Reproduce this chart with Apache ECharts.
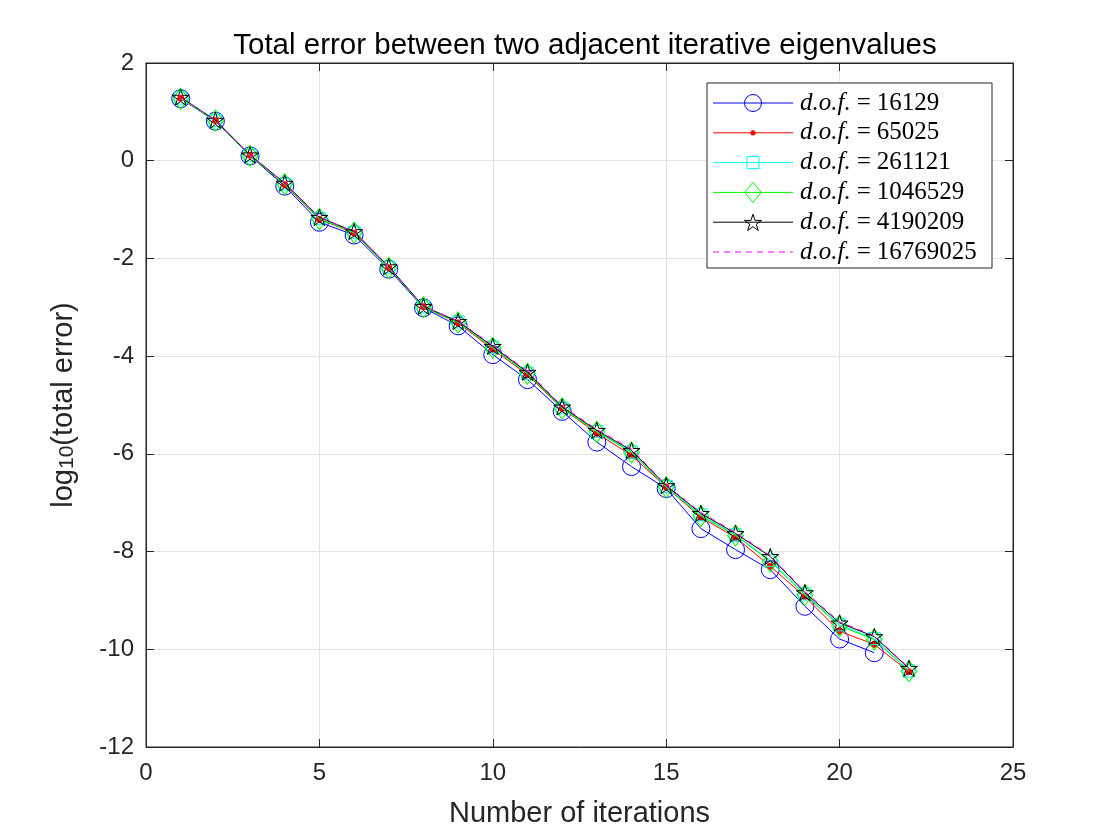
<!DOCTYPE html>
<html>
<head>
<meta charset="utf-8">
<script src="https://cdn.jsdelivr.net/npm/echarts@6/dist/echarts.min.js"></script>
<style>html,body{margin:0;padding:0;background:#fff;}#c{width:1120px;height:840px;}</style>
</head>
<body>
<div id="c"></div>
<script>
const iterations = [1,2,3,4,5,6,7,8,9,10,11,12,13,14,15,16,17,18,19,20,21,22];
const dof16129 = [1.27,0.81,0.10,-0.52,-1.26,-1.52,-2.22,-3.01,-3.38,-3.97,-4.48,-5.13,-5.76,-6.26,-6.71,-7.53,-7.96,-8.37,-9.12,-9.79,-10.07];
const dof65025 = [1.28,0.82,0.11,-0.49,-1.20,-1.48,-2.19,-2.99,-3.32,-3.86,-4.38,-5.07,-5.58,-6.03,-6.68,-7.30,-7.71,-8.30,-8.92,-9.63,-9.90,-10.46];
const dof261121 = [1.28,0.82,0.11,-0.48,-1.18,-1.47,-2.18,-2.99,-3.30,-3.82,-4.35,-5.06,-5.54,-5.96,-6.67,-7.25,-7.66,-8.18,-8.87,-9.50,-9.78,-10.44];
const dof1046529 = [1.27,0.82,0.10,-0.48,-1.19,-1.47,-2.19,-3.00,-3.31,-3.83,-4.36,-5.07,-5.55,-5.97,-6.68,-7.27,-7.67,-8.20,-8.89,-9.52,-9.80,-10.45];
const dof4190209 = [1.30,0.83,0.12,-0.46,-1.16,-1.45,-2.17,-2.98,-3.29,-3.80,-4.33,-5.04,-5.52,-5.93,-6.65,-7.22,-7.63,-8.10,-8.84,-9.46,-9.74,-10.39];
const dof16769025 = [1.29,0.83,0.12,-0.46,-1.16,-1.45,-2.17,-2.98,-3.28,-3.78,-4.31,-5.02,-5.50,-5.90,-6.64,-7.20,-7.61,-8.08,-8.82,-9.44,-9.72,-10.38];
const legendLabels = ['16129','65025','261121','1046529','4190209','16769025'];
const xTicks = [0,5,10,15,20,25];
const yTicks = [2,0,-2,-4,-6,-8,-10,-12];

const STAR = 'path://M0,-100 L22.45,-30.9 L95.1,-30.9 L36.3,11.8 L58.8,80.9 L0,38.2 L-58.8,80.9 L-36.3,11.8 L-95.1,-30.9 L-22.45,-30.9 Z';
function pairs(arr){ return arr.map((v,i)=>[iterations[i], v]); }
const specs = [
  {data: dof16129, color:'#0000ff', symbol:'circle', size:18, fill:'rgba(0,0,0,0)', mk:'circle'},
  {data: dof65025, color:'#ff0000', symbol:'circle', size:6, fill:'#ff0000', mk:'dot'},
  {data: dof261121, color:'#00ffff', symbol:'rect', size:12, fill:'rgba(0,0,0,0)', mk:'square'},
  {data: dof1046529, color:'#00ff00', symbol:'diamond', size:[16,21], fill:'rgba(0,0,0,0)', mk:'diamond'},
  {data: dof4190209, color:'#000000', symbol:STAR, size:[17,17], fill:'rgba(0,0,0,0)', mk:'star'},
  {data: dof16769025, color:'#ff00ff', symbol:'none', size:0, fill:'#ff00ff', dashed:true, mk:'none'}
];
const series = specs.map((s,k)=>({
  name: 'd.o.f. = ' + legendLabels[k],
  type:'line',
  data: pairs(s.data),
  symbol: s.symbol,
  symbolSize: s.size,
  symbolKeepAspect: true,
  showSymbol: s.symbol !== 'none',
  lineStyle:{color:s.color, width:1, type: s.dashed ? [6,5] : 'solid'},
  itemStyle:{color:s.fill, borderColor:s.color, borderWidth:1},
  emphasis:{disabled:true},
  animation:false,
  z: 2+k
}));

// custom legend (MATLAB style)
const LX = 707, LY = 83, LW = 285, LH = 185;
const rowY0 = 103, rowStep = 29.8;
const gfx = [{type:'rect', shape:{x:LX, y:LY, width:LW, height:LH}, style:{fill:'#fff', stroke:'#262626', lineWidth:1}, z:100}];
function starPts(cx, cy, R){
  const pts=[];
  for(let j=0;j<10;j++){
    const r = j%2===0 ? R : R*0.382;
    const a = (-90 + j*36) * Math.PI/180;
    pts.push([cx + r*Math.cos(a), cy + r*Math.sin(a)]);
  }
  return pts;
}
specs.forEach((s,k)=>{
  const y = rowY0 + k*rowStep;
  const mx = 753;
  gfx.push({type:'line', shape:{x1:713, y1:y, x2:793, y2:y}, style:{stroke:s.color, lineWidth:1, lineDash: s.dashed ? [6,5] : null}, z:101});
  const st = {fill:'none', stroke:s.color, lineWidth:1};
  if (s.mk==='circle') gfx.push({type:'circle', shape:{cx:mx, cy:y, r:8.5}, style:st, z:102});
  if (s.mk==='dot') gfx.push({type:'circle', shape:{cx:mx, cy:y, r:2.6}, style:{fill:s.color}, z:102});
  if (s.mk==='square') gfx.push({type:'rect', shape:{x:mx-6, y:y-6, width:12, height:12}, style:st, z:102});
  if (s.mk==='diamond') gfx.push({type:'polygon', shape:{points:[[mx,y-10],[mx+8.3,y],[mx,y+10],[mx-8.3,y]]}, style:st, z:102});
  if (s.mk==='star') gfx.push({type:'polygon', shape:{points:starPts(mx, y+1, 9)}, style:st, z:102});
  gfx.push({type:'text', x:800, y:y, z:103, style:{
    text:'{i|d.o.f.}{e|=}' + legendLabels[k],
    verticalAlign:'middle', align:'left',
    font:'25px "Liberation Serif"', fill:'#000',
    rich:{
      i:{fontFamily:'Liberation Serif', fontStyle:'italic', fontSize:25, fill:'#000', color:'#000'},
      e:{fontFamily:'Liberation Serif', fontSize:25, fill:'#000', color:'#000', padding:[0,6,0,6]}
    }
  }});
});

const tickColor = '#262626';
const chart = echarts.init(document.getElementById('c'), null, {renderer:'canvas'});
chart.setOption({
  backgroundColor:'#fff',
  animation:false,
  title:{text:'Total error between two adjacent iterative eigenvalues', left:580, top:26, textAlign:'center',
    textStyle:{fontFamily:'Liberation Sans', fontSize:29.5, fontWeight:'normal', color:'#000'}},
  grid:{left:146, right:107, top:63, bottom:93, show:true, borderColor:tickColor, borderWidth:1, backgroundColor:'#fff'},
  graphic: gfx,
  xAxis:[{
    type:'value', min:0, max:25, interval:5, position:'bottom',
    name:'Number of iterations', nameLocation:'middle', nameGap:52,
    nameTextStyle:{fontFamily:'Liberation Sans', fontSize:29, color:tickColor},
    axisLine:{show:true, onZero:false, lineStyle:{color:tickColor}},
    axisTick:{show:true, inside:true, length:8, lineStyle:{color:tickColor}},
    axisLabel:{fontFamily:'Liberation Sans', fontSize:24, color:tickColor, margin:14},
    splitLine:{show:true, lineStyle:{color:'#e3e3e3', width:1}}
  },{
    type:'value', min:0, max:25, interval:5, position:'top',
    axisLine:{show:true, onZero:false, lineStyle:{color:tickColor}},
    axisTick:{show:true, inside:true, length:8, lineStyle:{color:tickColor}},
    axisLabel:{show:false}, splitLine:{show:false}
  }],
  yAxis:[{
    type:'value', min:-12, max:2, interval:2, position:'left',
    name:'{a|log}{s|10}{a|(total error)}', nameLocation:'middle', nameGap:68,
    nameTextStyle:{fontFamily:'Liberation Sans', fontSize:29, color:tickColor,
      rich:{a:{fontFamily:'Liberation Sans', fontSize:29, color:tickColor},
            s:{fontFamily:'Liberation Sans', fontSize:21, color:tickColor, verticalAlign:'bottom', lineHeight:16}}},
    axisLine:{show:true, onZero:false, lineStyle:{color:tickColor}},
    axisTick:{show:true, inside:true, length:8, lineStyle:{color:tickColor}},
    axisLabel:{fontFamily:'Liberation Sans', fontSize:24, color:tickColor, margin:12},
    splitLine:{show:true, lineStyle:{color:'#e3e3e3', width:1}}
  },{
    type:'value', min:-12, max:2, interval:2, position:'right',
    axisLine:{show:true, onZero:false, lineStyle:{color:tickColor}},
    axisTick:{show:true, inside:true, length:8, lineStyle:{color:tickColor}},
    axisLabel:{show:false}, splitLine:{show:false}
  }],
  series: series
});
</script>
</body>
</html>
